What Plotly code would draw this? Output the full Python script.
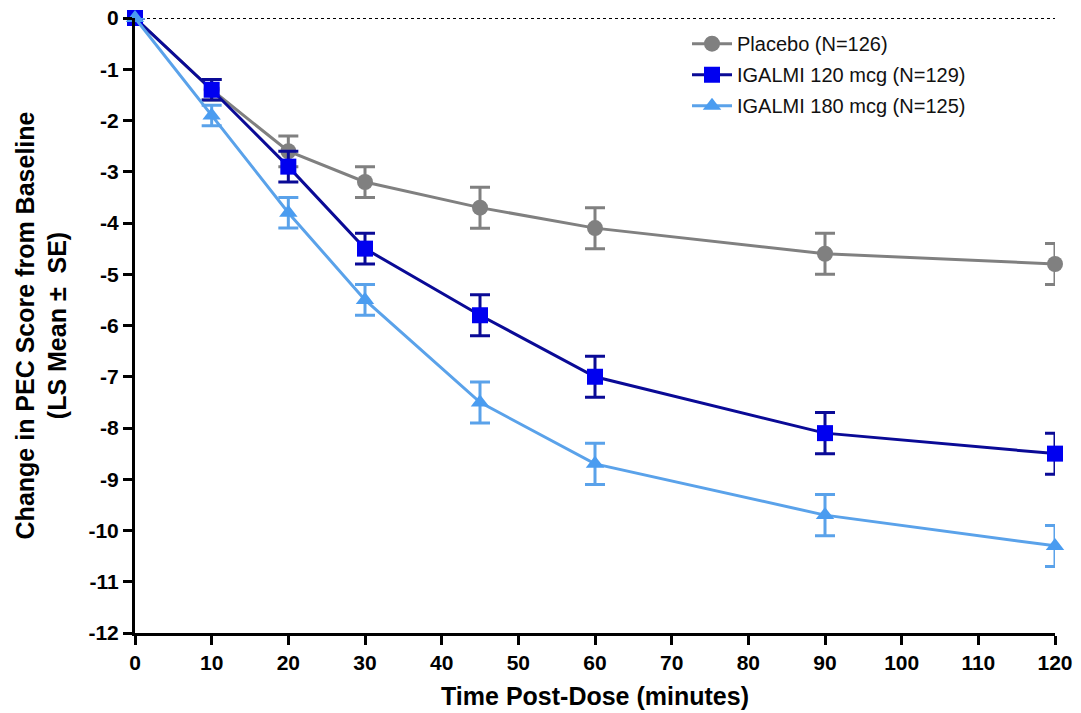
import plotly.graph_objects as go

time_min = [0, 10, 20, 30, 45, 60, 90, 120]
placebo_mean = [0, -1.4, -2.6, -3.2, -3.7, -4.1, -4.6, -4.8]
placebo_se = [0, 0.2, 0.3, 0.3, 0.4, 0.4, 0.4, 0.4]
igalmi120_mean = [0, -1.4, -2.9, -4.5, -5.8, -7.0, -8.1, -8.5]
igalmi120_se = [0, 0.2, 0.3, 0.3, 0.4, 0.4, 0.4, 0.4]
igalmi180_mean = [0, -1.9, -3.8, -5.5, -7.5, -8.7, -9.7, -10.3]
igalmi180_se = [0, 0.2, 0.3, 0.3, 0.4, 0.4, 0.4, 0.4]

names = ["Placebo (N=126)", "IGALMI 120 mcg (N=129)", "IGALMI 180 mcg (N=125)"]
x_ticks = [0, 10, 20, 30, 40, 50, 60, 70, 80, 90, 100, 110, 120]
y_ticks = [0, -1, -2, -3, -4, -5, -6, -7, -8, -9, -10, -11, -12]

FONT = "Liberation Sans, Arial, sans-serif"

fig = go.Figure()

series = [
    (placebo_mean, placebo_se, names[0], "#808080", "#808080", "#808080", "circle"),
    (igalmi120_mean, igalmi120_se, names[1], "#0a0a96", "#0000f0", "#0a0a96", "square"),
    (igalmi180_mean, igalmi180_se, names[2], "#5aa2ea", "#4a9cf0", "#5aa2ea", "triangle-up"),
]

for i, (mean, se, name, lcol, mcol, ecol, sym) in enumerate(series):
    fig.add_trace(go.Scatter(
        x=time_min, y=mean, name=name, mode="lines+markers",
        legendgroup="g%d" % i,
        line=dict(color=lcol, width=3),
        marker=dict(color=mcol, size=16, symbol=sym),
        error_y=dict(type="data", array=se, visible=True, color=ecol,
                     thickness=3, width=10),
        cliponaxis=False,
    ))

fig.add_shape(type="line", xref="x", yref="y", x0=0, x1=120, y0=0, y1=0,
              line=dict(color="black", width=2, dash="dot"), layer="below")

fig.update_layout(
    width=1081, height=713,
    margin=dict(l=127, r=34, t=10, b=88),
    plot_bgcolor="white", paper_bgcolor="white",
    font=dict(family=FONT, color="black"),
    showlegend=True,
    legend=dict(x=0.6, y=0.99, xanchor="left", yanchor="top",
                font=dict(size=20, family=FONT, color="#111"),
                bgcolor="rgba(0,0,0,0)", itemwidth=40, tracegroupgap=2),
    xaxis=dict(range=[0, 120], tickvals=x_ticks,
               ticktext=["<b>%d</b>" % v for v in x_ticks],
               showline=True, linecolor="black", linewidth=3,
               ticks="outside", ticklen=9, tickwidth=3, tickcolor="black",
               showgrid=False, zeroline=False, automargin=False,
               ticklabeloverflow="allow",
               tickfont=dict(size=21, family=FONT, color="black"),
               title=dict(text="<b>Time Post-Dose (minutes)</b>",
                          font=dict(size=25, family=FONT))),
    yaxis=dict(range=[-12, 0], tickvals=y_ticks,
               ticktext=["<b>%d</b>" % v for v in y_ticks],
               showline=True, linecolor="black", linewidth=3,
               ticks="outside", ticklen=9, tickwidth=3, tickcolor="black",
               showgrid=False, zeroline=False, automargin=False,
               ticklabeloverflow="allow",
               tickfont=dict(size=21, family=FONT, color="black"),
               title=dict(text="<b>Change in PEC Score from Baseline<br>(LS Mean ±  SE)</b>",
                          font=dict(size=25, family=FONT))),
)

fig.write_html("out.html")
